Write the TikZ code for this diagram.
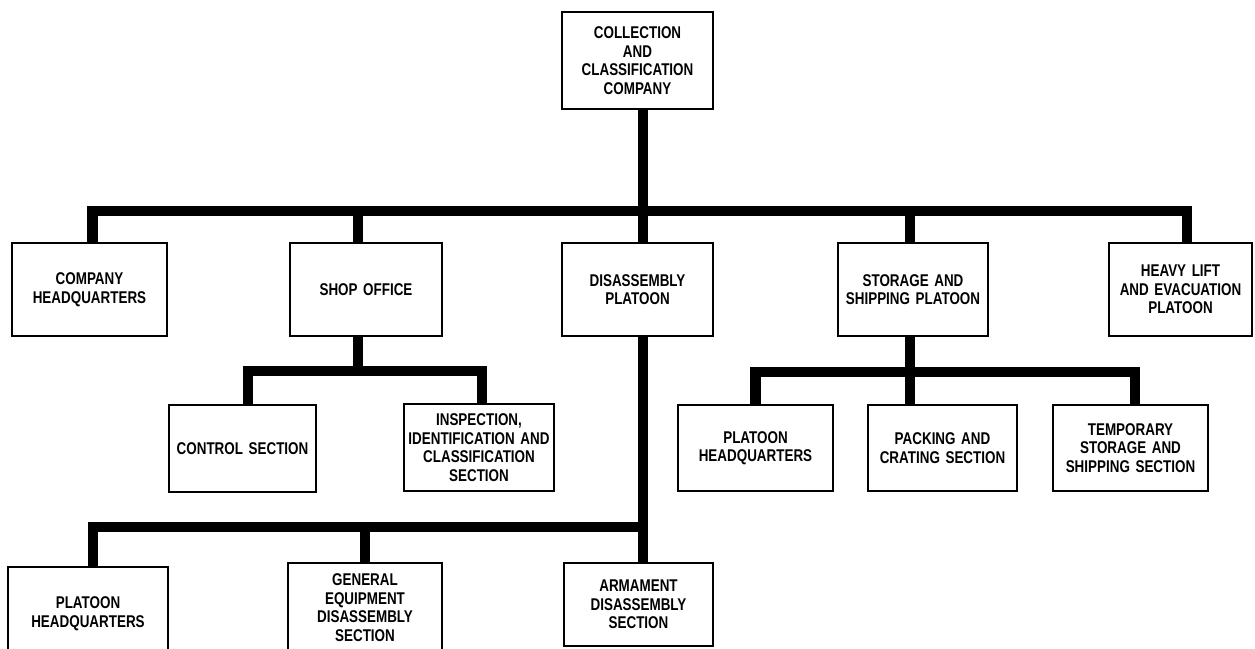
\documentclass[tikz,border=0pt]{standalone}
\usepackage{fontspec}
\setmainfont{Liberation Sans}[FakeStretch=0.79, WordSpace=1.5]
\begin{document}
\begin{tikzpicture}[x=1pt, y=-1pt,
  unit/.style={draw, line width=2.4pt, fill=white, align=center, inner sep=0pt,
    font=\fontsize{17}{18.5}\selectfont\bfseries},
  bar/.style={line width=10.5pt, line join=miter, line cap=butt}]
\useasboundingbox (0,0) rectangle (1255,648);
\clip (0,0) rectangle (1255,648);

% company
\node[unit, minimum width=151, minimum height=97] (top) at (637.5,60.5)
  {COLLECTION\\AND\\CLASSIFICATION\\COMPANY};

% first level
\node[unit, minimum width=155, minimum height=93] (chq) at (89.5,289.5)
  {COMPANY\\HEADQUARTERS};
\node[unit, minimum width=152, minimum height=93] (shop) at (366,289.5)
  {SHOP OFFICE};
\node[unit, minimum width=151, minimum height=93] (dis) at (637.5,289.5)
  {DISASSEMBLY\\PLATOON};
\node[unit, minimum width=150, minimum height=93] (stor) at (913,289.5)
  {STORAGE AND\\SHIPPING PLATOON};
\node[unit, minimum width=143, minimum height=93] (heavy) at (1180.5,289.5)
  {HEAVY LIFT\\AND EVACUATION\\PLATOON};

% shop office sections
\node[unit, minimum width=147, minimum height=87] (ctrl) at (242.5,448.5)
  {CONTROL SECTION};
\node[unit, minimum width=150, minimum height=87] (insp) at (479,447.5)
  {INSPECTION,\\IDENTIFICATION AND\\CLASSIFICATION\\SECTION};

% storage and shipping sections
\node[unit, minimum width=155, minimum height=86] (sphq) at (755.5,448)
  {PLATOON\\HEADQUARTERS};
\node[unit, minimum width=149, minimum height=86] (pack) at (942.5,448)
  {PACKING AND\\CRATING SECTION};
\node[unit, minimum width=155, minimum height=86] (temp) at (1130.5,448)
  {TEMPORARY\\STORAGE AND\\SHIPPING SECTION};

% disassembly sections
\node[unit, minimum width=160, minimum height=93] (dphq) at (88,613.5)
  {PLATOON\\HEADQUARTERS};
\node[unit, minimum width=154, minimum height=89] (gen) at (365,607.5)
  {GENERAL\\EQUIPMENT\\DISASSEMBLY\\SECTION};
\node[unit, minimum width=149, minimum height=83] (arm) at (638.5,604.5)
  {ARMAMENT\\DISASSEMBLY\\SECTION};

% bus points
\coordinate (b1) at (643,211);
\coordinate (b2) at (358,371);
\coordinate (b3) at (910,372);
\coordinate (b4) at (643,527);

% company lines
\draw[bar] ([xshift=5.5pt]top.south) -- ([xshift=5.5pt]dis.north);
\draw[bar] ([xshift=3pt]chq.north) |- (b1) -| ([xshift=6.5pt]heavy.north);
\draw[bar] ([xshift=-8pt]shop.north) -- ([xshift=-8pt]shop.north |- b1);
\draw[bar] ([xshift=-3pt]stor.north) -- ([xshift=-3pt]stor.north |- b1);

% shop office lines
\draw[bar] ([xshift=-8pt]shop.south) -- (b2);
\draw[bar] ([xshift=5.5pt]ctrl.north) |- (b2) -| ([xshift=3pt]insp.north);

% storage and shipping lines
\draw[bar] ([xshift=-3pt]stor.south) -- ([xshift=-32.5pt]pack.north);
\draw[bar] (sphq.north) |- (b3) -| ([xshift=4.5pt]temp.north);

% disassembly lines
\draw[bar] ([xshift=5.5pt]dis.south) -- ([xshift=4.5pt]arm.north);
\draw[bar] ([xshift=5pt]dphq.north) |- (b4);
\draw[bar] (gen.north) -- (gen.north |- b4);
\end{tikzpicture}
\end{document}
